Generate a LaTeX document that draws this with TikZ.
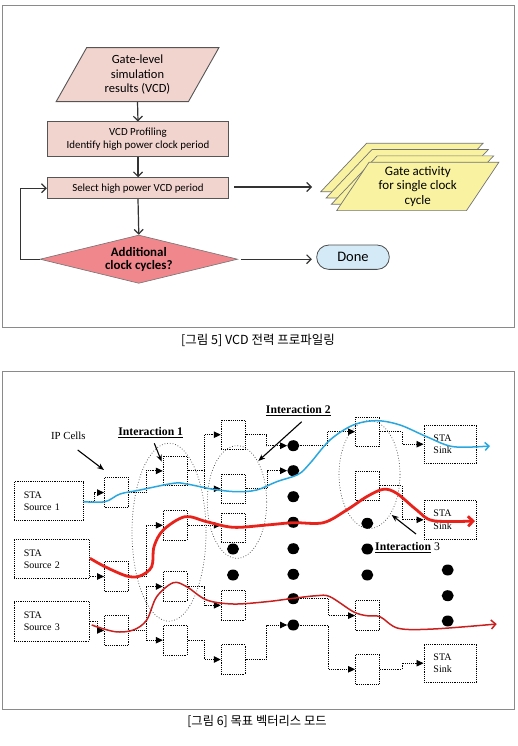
\documentclass[tikz,border=0pt]{standalone}
\usepackage{fontspec}
\setmainfont{Liberation Serif}
\newfontfamily\calfont{Carlito}
\newfontfamily\krfont{Noto Sans CJK KR}
\usetikzlibrary{shapes.geometric,arrows.meta}
\definecolor{framec}{HTML}{8A8A8A}
\definecolor{pinkfill}{HTML}{F2D4CF}
\definecolor{diafill}{HTML}{F0878D}
\definecolor{yelfill}{HTML}{F9F3A1}
\definecolor{donefill}{HTML}{D4EBF7}
\definecolor{boxline}{HTML}{555555}
\definecolor{bluec}{HTML}{2AA7DF}
\definecolor{redA}{HTML}{E8231C}
\definecolor{redB}{HTML}{C8201F}
\tikzset{
  frame/.style={draw=framec, line width=1pt},
  pbox/.style={draw=boxline, fill=pinkfill, line width=0.9pt, inner sep=0pt, align=center,
    font=\calfont\fontsize{10.9}{13.3}\selectfont, minimum width=181.4pt},
  para/.style={trapezium, trapezium stretches=true, draw=boxline, line width=0.9pt, inner sep=0pt, align=center},
  flow/.style={draw=black!80, line width=1.2pt, -{Straight Barb[length=4.5pt,width=9pt]}},
  cell/.style={draw, densely dotted, line width=0.85pt, minimum width=24pt, minimum height=29.5pt, inner sep=0pt},
  stabox/.style={draw, densely dotted, line width=0.85pt, inner xsep=9.5pt, inner ysep=0pt, align=left,
    font=\fontsize{10}{12.4}\selectfont},
  conn/.style={densely dotted, line width=0.85pt, -{Triangle[length=7pt,width=6.5pt]}},
  dotb/.style={ellipse, fill=black, minimum width=12pt, minimum height=11pt, inner sep=0pt},
  ell/.style={draw=black!80, dotted, line width=0.7pt},
  blk/.style={line width=1.1pt, -{Stealth[length=7pt,width=5.5pt]}},
  ilabel/.style={font=\fontsize{11.7}{13}\selectfont\bfseries, inner sep=0pt},
  caption/.style={font=\krfont\fontsize{12.3}{14}\selectfont, inner sep=0pt}
}
\begin{document}
\begin{tikzpicture}[x=1pt,y=-1pt]
\useasboundingbox (0,0) rectangle (518,746);
% ---------------- top panel ----------------
\draw[frame] (2.5,6) rectangle (514.5,327);
\node[para, fill=pinkfill, trapezium left angle=63.5, trapezium right angle=116.5,
  minimum width=163pt, minimum height=54pt, font=\calfont\fontsize{12.5}{14.5}\selectfont]
  (gl) at (137.5,74.7) {Gate-level\\simulation\\results (VCD)};
\node[pbox, minimum height=34.7pt] (pr1) at (138,139.3) {VCD Profiling\\Identify high power clock period};
\node[pbox, minimum height=21pt] (pr2) at (138,188.2) {Select high power VCD period};
\node[diamond, draw=black!55, line width=0.6pt, fill=diafill, aspect=4.1, inner sep=0pt,
  minimum width=197.7pt, minimum height=48.3pt, align=center,
  font=\calfont\bfseries\fontsize{12.9}{13.3}\selectfont] (dia) at (138.8,259.2) {Additional\\clock cycles?};
\node[draw=black!70, line width=0.8pt, fill=donefill, rounded corners=12pt, minimum width=72.6pt,
  minimum height=24.3pt, inner sep=0pt, font=\calfont\fontsize{14.5}{16}\selectfont] (done) at (353,257.2) {Done};
\foreach \i/\dx/\dy in {1/401.9/167.5, 2/407.2/173.8, 3/412.5/180.1}{
  \node[para, fill=yelfill, draw=black!55, line width=0.7pt, trapezium left angle=57, trapezium right angle=123,
    inner sep=2pt, minimum width=162.3pt, minimum height=48.4pt] (g\i) at (\dx,\dy) {};
}
\node[para, fill=yelfill, draw=black!55, line width=0.7pt, trapezium left angle=57, trapezium right angle=123,
  minimum width=162.3pt, minimum height=48.4pt, font=\calfont\fontsize{13}{14.5}\selectfont]
  (g4) at (417.8,186.4) {Gate activity\\for single clock\\cycle};
\coordinate (stk) at (312,187);
\draw[flow] (gl.south) -- (pr1.north);
\draw[flow] (pr1.south) -- (pr2.north);
\draw[flow] (pr2.south) -- (dia.north);
\draw[flow] (dia.west) -- ++(-19.3,0) |- (pr2.west);
\draw[flow] ([xshift=5.3pt]pr2.east |- stk) -- (stk);
\draw[flow] ([xshift=3pt]dia.east) -- ([xshift=-4.4pt]done.west |- dia.east);
\node[caption, font=\krfont\fontsize{12.5}{14}\selectfont] (cap5) at (258,340) {[그림 5] VCD 전력 프로파일링};
% ---------------- bottom panel ----------------
\draw[frame] (2.5,371.7) rectangle (514.5,709);
% ellipses
\draw[ell] (169,532.2) ellipse [x radius=37, y radius=89];
\draw[ell] (237,502) ellipse [x radius=29.7, y radius=56.3];
\draw[ell] (369.5,474.5) ellipse [x radius=30.5, y radius=54];
% STA boxes
\node[stabox, minimum width=69pt, minimum height=39pt, text width=50pt] (s1) at (48.8,501.2) {STA\\Source 1};
\node[stabox, minimum width=75pt, minimum height=39.4pt, text width=56pt] (s2) at (51.8,559) {STA\\Source 2};
\node[stabox, minimum width=75pt, minimum height=39.3pt, text width=56pt] (s3) at (51.8,621.3) {STA\\Source 3};
\node[stabox, minimum width=52.7pt, minimum height=38.3pt, text width=33.7pt] (k1) at (450.3,444.2) {STA\\Sink};
\node[stabox, minimum width=52.7pt, minimum height=39pt, text width=33.7pt] (k2) at (450.3,519.8) {STA\\Sink};
\node[stabox, minimum width=52.7pt, minimum height=38.3pt, text width=33.7pt] (k3) at (450.3,663.2) {STA\\Sink};
% IP cells
\node[cell] (a1) at (116.5,492.6) {};
\node[cell] (a2) at (116.5,576.5) {};
\node[cell] (a3) at (116.5,630.4) {};
\node[cell] (b1) at (175.2,470.9) {};
\node[cell] (b2) at (175.2,525.3) {};
\node[cell] (b3) at (175.2,586.5) {};
\node[cell] (b4) at (175.2,640.2) {};
\node[cell] (c1) at (233.2,434.7) {};
\node[cell] (c2) at (233.2,488.8) {};
\node[cell] (c3) at (233.2,527.7) {};
\node[cell] (c4) at (233.2,605.3) {};
\node[cell] (c5) at (233.2,659.5) {};
\node[cell] (d1) at (367.5,431.7) {};
\node[cell] (d2) at (367.5,485.7) {};
\node[cell] (d3) at (367.5,615.6) {};
\node[cell] (d4) at (367.5,669.3) {};
% dots
\foreach \n/\px/\py in {p1/293.3/445.7, p2/293.3/470.7, p3/293.3/496.7, p4/293.3/522.3,
  p5/293.3/548.7, p6/293.3/574.3, p7/293.3/598.7, p8/293.3/625,
  q1/233/549, q2/233/575, u1/367.3/523.3, u2/367.3/549, u3/367.3/575,
  t1/447.7/570, t2/447.7/595.7, t3/447.7/621}{
  \node[dotb] (\n) at (\px,\py) {};
}
% dotted connections
\draw[conn] (s1.east) -- ++(10.7,0) |- (a1.west);
\draw[conn] (s2.east |- a2.west) -- (a2.west);
\draw[conn] (s3.east) -- ++(7.4,0) |- (a3.west);
\draw[conn] (a1.east) -- ++(17,0) |- (b1.west);
\draw[conn] (a2.east) -- ++(17,0) |- (b2.west);
\draw[conn] (a3.east) -- ++(17,0) |- (b3.west);
\draw[conn] (a3.east) ++(17,0) |- (b4.west);
\draw[conn] (b1.east) -- ++(17,0) |- (c1.west);
\draw[conn] (b1.east) ++(17,0) |- (c2.west);
\draw[conn] (b2.east) -- (c3.west |- b2.east);
\draw[conn] (b3.east) -- ++(17,0) |- (c4.west);
\draw[conn] (b4.east) -- ++(17,0) |- (c5.west);
\draw[conn] (c1.east) -- ++(20.5,0) |- (p1.west);
\draw[conn] (c2.east) -- ++(21.5,0) |- (p2.west);
\draw[conn] (c5.east) -- ++(21,0) |- (p8.west);
\draw[conn] (p1.east) -- ++(28,0) |- (d1.west);
\draw[conn] (p7.east) -- ++(29,0) |- (d3.west);
\draw[conn] (p8.east) -- ++(29,0) |- (d4.west);
\draw[conn] (d1.east) -- ++(22,0) |- (k1.west);
\draw[conn] (d2.east) -- ++(22,0) |- (k2.west);
\draw[conn] (d4.east) -- ++(22,0) |- (k3.west);
% labels and pointer arrows
\node[font=\fontsize{10.8}{12}\selectfont, inner sep=0pt] (ipc) at (68.3,435.7) {IP Cells};
\node[ilabel] (int1) at (150.7,432.7) {\underline{Interaction 1}};
\node[ilabel] (int2) at (298.3,410.3) {\underline{Interaction 2}};
\node[ilabel, anchor=west] (int3) at (375,547.3) {\underline{Interaction}\mdseries\ 3};
\coordinate (ipA) at (77.7,450);  \coordinate (ipB) at (104,470);
\coordinate (i1A) at (154.3,443.3); \coordinate (i1B) at (161.7,461.7);
\coordinate (i2A) at (301.7,421.7); \coordinate (i2B) at (258.3,461);
\coordinate (i3A) at (416,534);   \coordinate (i3B) at (391.7,515);
\draw[blk] (ipA) -- (ipB);
\draw[blk] (i1A) -- (i1B);
\draw[blk] (i2A) -- (i2B);
\draw[blk] (i3A) -- (i3B);
% paths
\draw[bluec, line width=1.5pt, -{Straight Barb[length=4pt,width=8pt]}] plot[smooth, tension=0.55] coordinates {
 (83.3,501.7) (105,501.7) (120,494) (140,490) (173.3,483.3) (186.7,484) (213.3,489.3) (236.7,491.7)
 (256.7,490) (276.7,481.7) (298.3,474.3) (310,463.3) (330,440) (353.3,425) (376.7,420.7) (400,425)
 (426.7,436.7) (453.3,446.7) (490,446)};
\draw[redA, line width=2.8pt, -{Straight Barb[length=5pt,width=10pt]}] plot[smooth, tension=0.55] coordinates {
 (90,558.3) (105,566.7) (126.7,576) (140,576) (151.7,566.7) (154,546.7) (163.3,530) (185,516.7)
 (206.7,521.7) (233.3,527.3) (266.7,525) (293.3,522.7) (323.3,522.7) (346.7,510) (366.7,496.7)
 (383.3,489.3) (396.7,493.3) (416.7,510) (433.3,520.7) (475,521)};
\draw[redB, line width=1.5pt, -{Straight Barb[length=4.5pt,width=9pt]}] plot[smooth, tension=0.55] coordinates {
 (91.7,625) (115,631.7) (133.3,630) (146.7,620) (156.7,596.7) (173.3,582.7) (186.7,586.7) (206.7,600)
 (233.3,604) (266.7,601.7) (293.3,598.3) (316.7,595.7) (330,596.7) (353.3,611.7) (366.7,615.7)
 (380,616.7) (398.3,628.3) (433.3,629) (496.7,624)};
\node[caption] (cap6) at (257,721.7) {[그림 6] 목표 벡터리스 모드};
\end{tikzpicture}
\end{document}
